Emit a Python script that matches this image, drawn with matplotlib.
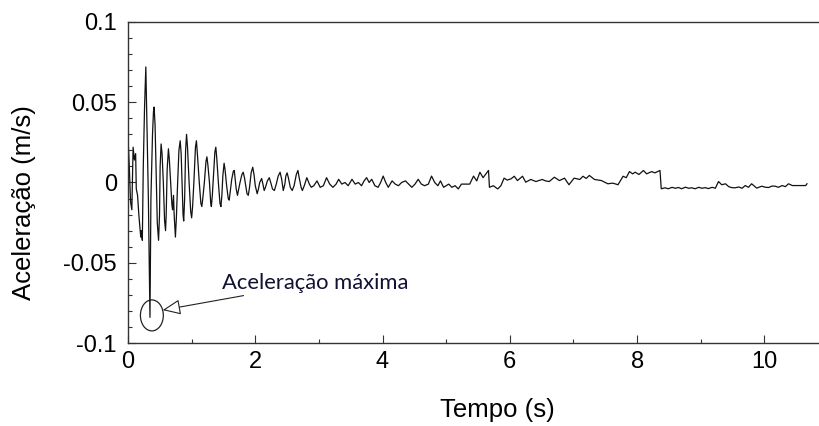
#acceleration record with peak annotation

import matplotlib
matplotlib.use("Agg")
import matplotlib.pyplot as plt
from matplotlib.patches import Ellipse
from matplotlib.ticker import MultipleLocator

#time (s) and acceleration values, first 0.36 s
t_inicio = [
    0.00, 0.02, 0.04, 0.06, 0.08, 0.10, 0.12, 0.13, 0.15, 0.17,
    0.20, 0.21, 0.225, 0.24, 0.26, 0.28, 0.30, 0.32, 0.345, 0.36,
]
a_inicio = [
    0.028, 0.010, -0.012, -0.017, 0.022, 0.014, 0.018, -0.004, -0.008, -0.020,
    -0.034, -0.030, -0.036, 0.010, 0.047, 0.072, 0.030, -0.010, -0.084, -0.010,
]

#decaying oscillation up to about 2.9 s
t_osc = [
    0.385, 0.40, 0.41, 0.425, 0.44, 0.46, 0.48, 0.495, 0.505, 0.52,
    0.535, 0.555, 0.575, 0.59, 0.60, 0.615, 0.635, 0.65, 0.67, 0.69,
    0.70, 0.715, 0.725, 0.745, 0.76, 0.78, 0.80, 0.82, 0.835, 0.85,
    0.865, 0.875, 0.89, 0.905, 0.92, 0.935, 0.96, 0.985, 1.00, 1.015,
    1.035, 1.06, 1.075, 1.09, 1.12, 1.145, 1.16, 1.175, 1.20, 1.225,
    1.24, 1.255, 1.28, 1.30, 1.31, 1.325, 1.345, 1.365, 1.38, 1.395,
    1.42, 1.445, 1.46, 1.475, 1.49, 1.51, 1.525, 1.55, 1.575, 1.59,
    1.605, 1.63, 1.655, 1.67, 1.685, 1.70, 1.72, 1.74, 1.76, 1.79,
    1.81, 1.83, 1.85, 1.87, 1.89, 1.91, 1.935, 1.96, 1.98, 2.00,
    2.03, 2.05, 2.07, 2.10, 2.12, 2.14, 2.16, 2.19, 2.22, 2.25,
    2.27, 2.30, 2.33, 2.36, 2.39, 2.415, 2.44, 2.465, 2.48, 2.50,
    2.52, 2.55, 2.58, 2.61, 2.645, 2.67, 2.69, 2.72, 2.74, 2.77,
    2.81, 2.85, 2.88,
]
a_osc = [
    0.030, 0.044, 0.047, 0.036, 0.010, -0.025, -0.036, -0.020, 0.010, 0.024,
    0.018, 0.000, -0.024, -0.030, -0.020, 0.008, 0.021, 0.014, 0.000, -0.014,
    -0.017, -0.008, -0.020, -0.034, -0.022, 0.000, 0.020, 0.026, 0.018, 0.000,
    -0.020, -0.024, -0.010, 0.020, 0.030, 0.022, 0.000, -0.018, -0.022, -0.015,
    0.000, 0.022, 0.026, 0.018, 0.000, -0.013, -0.015, -0.010, 0.000, 0.013,
    0.016, 0.011, 0.000, -0.013, -0.015, -0.008, 0.006, 0.019, 0.022, 0.015,
    0.000, -0.013, -0.015, -0.008, 0.004, 0.012, 0.008, -0.002, -0.010, -0.011,
    -0.006, 0.002, 0.007, 0.0075, 0.002, -0.004, -0.008, -0.004, 0.000, 0.005,
    0.0064, 0.003, -0.002, -0.007, -0.008, -0.003, 0.006, 0.0095, 0.005, -0.002,
    -0.007, -0.004, 0.000, 0.0025, -0.001, -0.005, -0.003, 0.001, 0.003, -0.001,
    -0.004, -0.005, -0.001, 0.004, 0.0064, 0.002, -0.005, -0.001, 0.004, 0.006,
    0.003, -0.003, -0.005, -0.002, 0.005, 0.0075, 0.003, -0.003, -0.005, -0.002,
    0.003, -0.001, -0.003,
]

#residual noise to the end of the record
t_resto = [
    2.92, 2.97, 3.02, 3.07, 3.12, 3.17, 3.22, 3.27, 3.31, 3.36,
    3.41, 3.46, 3.52, 3.57, 3.62, 3.67, 3.71, 3.75, 3.79, 3.83,
    3.88, 3.93, 3.97, 4.01, 4.05, 4.09, 4.15, 4.20, 4.25, 4.30,
    4.36, 4.41, 4.46, 4.51, 4.56, 4.61, 4.66, 4.72, 4.77, 4.82,
    4.87, 4.91, 4.96, 5.00, 5.04, 5.09, 5.14, 5.19, 5.24, 5.30,
    5.37, 5.43, 5.48, 5.53, 5.58, 5.665, 5.68, 5.74, 5.81, 5.86,
    5.91, 5.96, 6.02, 6.07, 6.12, 6.20, 6.25, 6.33, 6.41, 6.51,
    6.56, 6.62, 6.70, 6.78, 6.86, 6.93, 7.01, 7.10, 7.15, 7.20,
    7.25, 7.33, 7.44, 7.54, 7.62, 7.70, 7.78, 7.83, 7.88, 7.93,
    7.97, 8.03, 8.10, 8.15, 8.23, 8.28, 8.36, 8.38, 8.44, 8.49,
    8.55, 8.60, 8.65, 8.70, 8.76, 8.81, 8.86, 8.91, 8.97, 9.02,
    9.07, 9.12, 9.18, 9.23, 9.28, 9.33, 9.39, 9.44, 9.49, 9.54,
    9.60, 9.65, 9.70, 9.75, 9.80, 9.88, 9.96, 10.02, 10.07, 10.12,
    10.17, 10.22, 10.28, 10.33, 10.38, 10.44, 10.49, 10.65, 10.67,
]
a_resto = [
    -0.002, 0.001, -0.003, -0.002, 0.003, -0.001, -0.003, -0.001, 0.002, -0.001,
    0.000, -0.002, 0.002, -0.001, 0.000, -0.002, 0.001, 0.003, 0.000, 0.002,
    -0.002, -0.003, 0.000, 0.004, 0.000, -0.003, 0.001, -0.001, -0.002, 0.000,
    0.001, -0.001, -0.003, -0.001, 0.002, -0.001, -0.002, -0.001, 0.004, 0.000,
    -0.002, 0.001, -0.003, -0.002, -0.001, -0.003, -0.002, -0.004, -0.001, -0.001,
    -0.001, 0.004, 0.001, 0.0064, 0.003, 0.0075, -0.003, -0.002, -0.004, -0.002,
    0.0027, 0.0015, 0.0023, 0.0039, 0.0012, 0.0039, 0.0002, 0.0019, 0.0006, 0.0019,
    0.0010, 0.0006, 0.0033, 0.0012, 0.0027, -0.0014, 0.0027, 0.0019, 0.0039, 0.0025,
    0.0044, 0.0019, 0.0012, -0.0008, -0.0004, -0.0014, 0.0039, 0.0030, 0.0068, 0.0054,
    0.0064, 0.0050, 0.0075, 0.0054, 0.0068, 0.0060, 0.0075, -0.0039, -0.0033, -0.0039,
    -0.0030, -0.0036, -0.0031, -0.0039, -0.0029, -0.0036, -0.0033, -0.0039, -0.0030, -0.0036,
    -0.0032, -0.0038, -0.0030, -0.0036, 0.0006, -0.0014, -0.0008, -0.0026, -0.0032, -0.0033,
    -0.0028, -0.0036, -0.0019, -0.0030, -0.0008, -0.0035, -0.0023, -0.0030, -0.0031, -0.0022,
    -0.0023, -0.0030, -0.0019, -0.0026, -0.0008, -0.0019, -0.0019, -0.0019, -0.0008,
]

tempo = t_inicio + t_osc + t_resto
aceleracao = a_inicio + a_osc + a_resto

ytick_vals = [-0.1, -0.05, 0.0, 0.05, 0.1]
ytick_txt = ["-0.1", "-0.05", "0", "0.05", "0.1"]
xtick_vals = [0, 2, 4, 6, 8, 10]

plt.rcParams['font.family'] = ['Liberation Sans', 'DejaVu Sans']

fig = plt.figure(figsize=(8.19, 4.26), dpi=100)
ax = fig.add_axes([0.1563, 0.1948, 0.85, 0.7536])

ax.plot(tempo, aceleracao, color='#111111', lw=0.9)

ax.set_xlim(0, 10.94)
ax.set_ylim(-0.1, 0.1)
ax.set_xticks(xtick_vals)
ax.set_xticklabels([str(v) for v in xtick_vals])
ax.set_yticks(ytick_vals)
ax.set_yticklabels(ytick_txt)
ax.xaxis.set_minor_locator(MultipleLocator(1))
ax.yaxis.set_minor_locator(MultipleLocator(0.01))
ax.tick_params(which='both', direction='in', top=False, right=False,
               labelsize=17, width=0.8, color='#333333')
ax.tick_params(which='major', length=6)
ax.tick_params(which='minor', length=3)
ax.tick_params(axis='x', pad=6)
ax.tick_params(axis='y', pad=8)

ax.spines['right'].set_visible(False)
for s in ('left', 'bottom', 'top'):
    ax.spines[s].set_linewidth(1.0)
    ax.spines[s].set_color('#333333')

ax.set_xlabel('Tempo (s)', fontsize=18.5)
ax.set_ylabel('Aceleração (m/s)', fontsize=18.5)
ax.xaxis.set_label_coords(0.530, -0.172)
ax.yaxis.set_label_coords(-0.132, 0.436)

#circle round the minimum and arrow to it
i_min = aceleracao.index(min(aceleracao))
t_min, a_min = tempo[i_min], aceleracao[i_min]
ax.add_patch(Ellipse((t_min + 0.03, a_min + 0.0012), 0.36, 0.0193,
                     fill=False, ec='#222222', lw=0.9))
ax.annotate('Aceleração máxima', xy=(t_min + 0.2, a_min + 0.0045),
            xytext=(1.47, -0.0625), fontsize=15.8,
            family=['Lato', 'DejaVu Sans'],
            color='#111133', va='center', ha='left',
            arrowprops=dict(arrowstyle='-|>,head_length=0.7,head_width=0.3',
                            fc='white', ec='#222222', lw=0.8,
                            shrinkA=0, shrinkB=0))

fig.savefig('out.png', dpi=100)
